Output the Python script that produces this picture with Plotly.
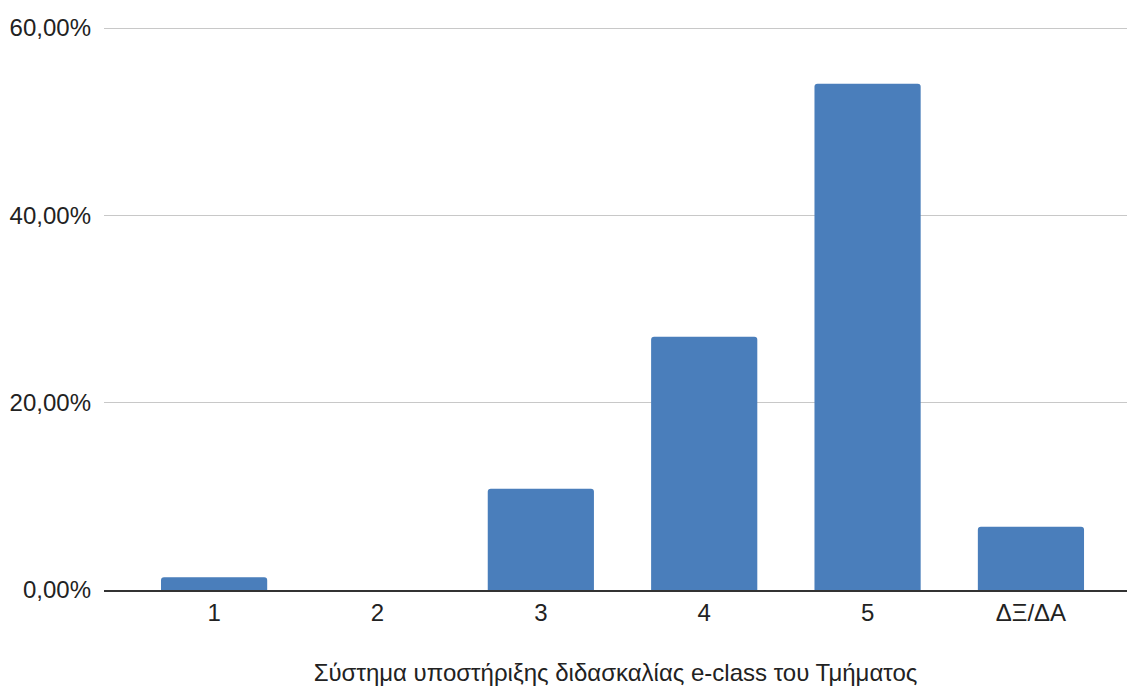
import plotly.graph_objects as go

categories = ["1", "2", "3", "4", "5", "ΔΞ/ΔΑ"]
values = [1.35, 0.0, 10.81, 27.03, 54.05, 6.76]
y_ticks = [0, 20, 40, 60]
y_tick_labels = ["0,00%", "20,00%", "40,00%", "60,00%"]
x_title = "Σύστημα υποστήριξης διδασκαλίας e-class του Τμήματος"

FONT = "Liberation Sans, Arial, sans-serif"

fig = go.Figure(
    go.Bar(
        x=categories,
        y=values,
        marker=dict(color="#4a7ebb", cornerradius=3, line=dict(width=0)),
        width=0.65,
    )
)

fig.update_layout(
    width=1127,
    height=686,
    margin=dict(l=104, r=0, t=20, b=96),
    paper_bgcolor="white",
    plot_bgcolor="white",
    font=dict(family=FONT, size=24, color="#222222"),
    showlegend=False,
    xaxis=dict(
        type="category",
        range=[-0.674, 5.588],
        showgrid=False,
        showline=True,
        linecolor="#333333",
        linewidth=1.5,
        ticks="",
        tickfont=dict(size=24, color="#222222"),
        title=dict(text=x_title, font=dict(size=24, color="#222222"), standoff=40),
    ),
    yaxis=dict(
        range=[0, 60.854],
        tickvals=y_ticks,
        ticktext=y_tick_labels,
        showgrid=True,
        gridcolor="#c8c8c8",
        gridwidth=1,
        zeroline=False,
        ticks="",
        ticklabelstandoff=12,
        tickfont=dict(size=24, color="#222222"),
    ),
)

fig.write_html(
    "out.html",
    config={"displayModeBar": False},
    post_script="document.body.style.margin='0';document.body.style.overflow='hidden';",
)
